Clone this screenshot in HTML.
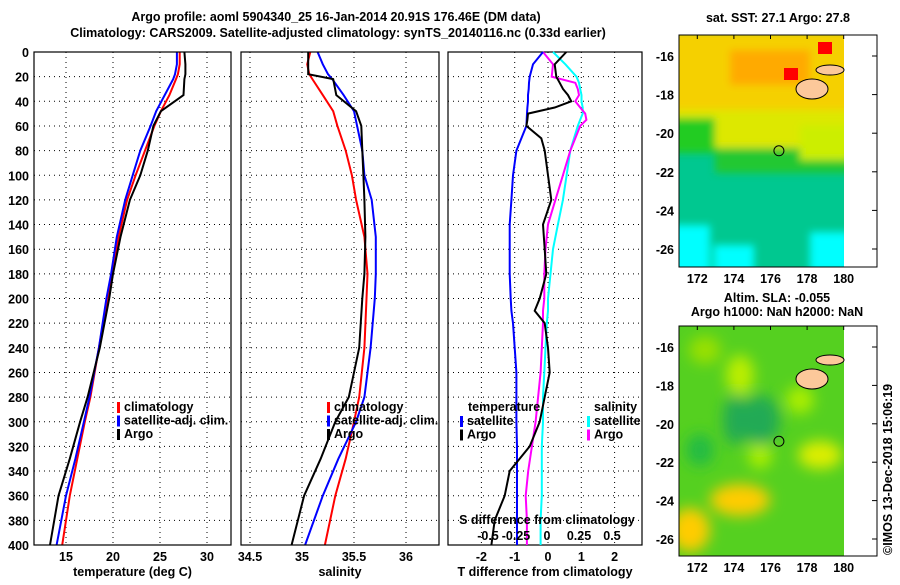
<!DOCTYPE html>
<html><head><meta charset="utf-8"><style>
body{margin:0;background:#fff}
svg text{font-family:"Liberation Sans",sans-serif;font-weight:bold;font-size:12.5px;fill:#000}
</style></head><body>
<svg id="c" width="900" height="580" xmlns="http://www.w3.org/2000/svg">
<text x="336" y="21" text-anchor="middle" font-size="14">Argo profile: aoml 5904340_25 16-Jan-2014 20.91S 176.46E (DM data)</text>
<text x="338" y="37" text-anchor="middle" font-size="14">Climatology: CARS2009. Satellite-adjusted climatology: synTS_20140116.nc (0.33d earlier)</text>
<g id="maps"></g>
<text x="892" y="555" transform="rotate(-90 892 555)">©IMOS 13-Dec-2018 15:06:19</text>
</svg>
<script>
// profile depth levels
const depths=[0,10,18,22,35,48,60,80,100,120,150,180,200,240,280,300,330,360,400];
const tClim=[27.1,27.1,26.9,26.7,26.0,25.1,24.4,23.4,22.4,21.5,20.6,19.9,19.4,18.5,17.6,17.0,16.2,15.4,14.6];
const tSat=[26.8,26.8,26.6,26.4,25.5,24.6,24.0,22.9,22.1,21.3,20.4,19.8,19.3,18.5,17.5,16.9,16.0,15.0,14.0];
const tArgo=[27.6,27.7,27.7,27.6,27.5,25.1,24.3,23.7,22.9,21.8,20.8,20.0,19.6,18.6,17.3,16.5,15.4,14.2,13.3];
const sClim=[35.08,35.05,35.07,35.1,35.2,35.3,35.34,35.42,35.48,35.52,35.6,35.63,35.62,35.6,35.55,35.5,35.42,35.32,35.22];
const sSat=[35.15,35.2,35.25,35.29,35.4,35.5,35.53,35.58,35.6,35.67,35.71,35.71,35.7,35.66,35.6,35.52,35.35,35.2,35.03];
const sArgo=[35.06,35.06,35.06,35.3,35.33,35.52,35.57,35.58,35.59,35.6,35.61,35.6,35.58,35.55,35.45,35.32,35.18,35.02,34.9];
// difference panel depth levels
const dDepths=[0,10,20,25,30,35,40,45,50,55,60,70,80,100,120,140,160,180,200,210,220,240,260,280,300,320,340,360,380,400];
const dT_sat=[-0.15,-0.45,-0.55,-0.57,-0.58,-0.6,-0.6,-0.62,-0.63,-0.64,-0.65,-0.8,-0.95,-1.05,-1.1,-1.15,-1.15,-1.15,-1.12,-1.1,-1.05,-1.0,-0.95,-0.95,-0.95,-0.93,-0.93,-0.93,-0.93,-0.93];
const dT_argo=[0.55,0.2,0.25,0.35,0.45,0.6,0.7,0.2,-0.6,-0.62,-0.65,-0.2,-0.1,0.0,0.1,-0.15,-0.1,-0.05,-0.25,-0.4,-0.1,0.0,0.05,-0.1,-0.25,-0.55,-1.15,-1.3,-1.6,-1.7];
const dS_sat=[0.04,0.14,0.23,0.25,0.26,0.27,0.27,0.28,0.28,0.26,0.24,0.21,0.18,0.15,0.12,0.08,0.04,0.02,0.0,0.0,-0.01,-0.02,-0.03,-0.04,-0.04,-0.05,-0.05,-0.05,-0.06,-0.06];
const dS_arg=[-0.04,0.04,0.03,0.22,0.24,0.25,0.22,0.26,0.3,0.31,0.26,0.22,0.18,0.12,0.06,0.0,-0.02,-0.03,-0.03,-0.04,-0.04,-0.05,-0.06,-0.08,-0.1,-0.13,-0.16,-0.18,-0.17,-0.17];
const depthTicks=[0,20,40,60,80,100,120,140,160,180,200,220,240,260,280,300,320,340,360,380,400];

const svg=document.getElementById('c');const NS='http://www.w3.org/2000/svg';
function el(tag,attrs,parent){const e=document.createElementNS(NS,tag);for(const k in attrs)e.setAttribute(k,attrs[k]);(parent||svg).appendChild(e);return e;}
function txt(x,y,s,anchor,parent){const t=el('text',{x:x,y:y,'text-anchor':anchor||'middle'},parent);t.textContent=s;return t;}
const Y=d=>52+d*(493/400);

function panel(name,x0,x1,xf,xticks,xlabels,title,series){
  const g=el('g',{});
  
  
  depthTicks.forEach(d=>{if(d>0&&d<400)el('line',{x1:x0,x2:x1,y1:Y(d),y2:Y(d),stroke:'#000','stroke-dasharray':'1,4'},g);});
  xticks.forEach((v,i)=>{const x=xf(v);el('line',{x1:x,x2:x,y1:52,y2:545,stroke:'#000','stroke-dasharray':'1,4'},g);
    const t=txt(x,561,xlabels[i],'middle',g);});
  series.forEach(s=>{const pts=s.v.map((v,i)=>xf(v).toFixed(1)+','+Y(depths[i]).toFixed(1)).join(' ');
    const p=el('polyline',{points:pts,fill:'none',stroke:s.c,'stroke-width':2},g);
    });
  el('rect',{x:x0,y:52,width:x1-x0,height:493,fill:'none',stroke:'#000','stroke-width':1.2},g);
  const tt=txt((x0+x1)/2,576,title,'middle',g);
  return g;
}
depthTicks.forEach(d=>{const t=txt(29,Y(d)+5,String(d),'end');});
const xT=v=>66+(v-15)*9.4, xS=v=>302+(v-35)*104, xD=v=>548+v*33.3, xSD=v=>548+v*124;
panel('temperature-panel',34,231,xT,[15,20,25,30],['15','20','25','30'],'temperature (deg C)',
 [{v:tClim,c:'#f00',n:'temp-climatology-line'},{v:tSat,c:'#00f',n:'temp-satellite-line'},{v:tArgo,c:'#000',n:'temp-argo-line'}]);
panel('salinity-panel',241,439,xS,[34.5,35,35.5,36],['34.5','35','35.5','36'],'salinity',
 [{v:sClim,c:'#f00',n:'sal-climatology-line'},{v:sSat,c:'#00f',n:'sal-satellite-line'},{v:sArgo,c:'#000',n:'sal-argo-line'}]);
const g3=panel('difference-panel',448,642,xD,[-2,-1,0,1,2],['-2','-1','0','1','2'],'T difference from climatology',[]);
function dline(arr,xf,col,name){
 const p=el('polyline',{points:arr.map((v,i)=>xf(v).toFixed(1)+','+Y(dDepths[i]).toFixed(1)).join(' '),fill:'none',stroke:col,'stroke-width':2},g3);
 }
dline(dS_sat,xSD,'#0ff','sdiff-satellite-line');
dline(dS_arg,xSD,'#f0f','sdiff-argo-line');
dline(dT_sat,xD,'#00f','tdiff-satellite-line');
dline(dT_argo,xD,'#000','tdiff-argo-line');
txt(547,524,'S difference from climatology','middle',g3);
[[-0.5,'-0.5',488],[-0.25,'-0.25',516],[0,'0',547],[0.25,'0.25',579],[0.5,'0.5',612]].forEach(v=>txt(v[2],540,v[1],'middle',g3));

function legend(x,y,items,name){const g=el('g',{});
 items.forEach((it,i)=>{el('rect',{x:x,y:y+i*13.5-9,width:3,height:11,fill:it[1]},g);txt(x+7,y+i*13.5,it[0],'start',g);});}
legend(117,411,[['climatology','#f00'],['satellite-adj. clim.','#00f'],['Argo','#000']],'temperature-legend');
legend(327,411,[['climatology','#f00'],['satellite-adj. clim.','#00f'],['Argo','#000']],'salinity-legend');
txt(468,411,'temperature','start');txt(594,411,'salinity','start');
legend(460,425,[['satellite','#00f'],['Argo','#000']],'tdiff-legend');
legend(587,425,[['satellite','#0ff'],['Argo','#f0f']],'sdiff-legend');

// maps
const maps=document.getElementById('maps');
const lonX=l=>679+(l-171)*18.3;
function mapFrame(top,bot,lat16,lat26,name){
 const g=el('g',{},maps);
 el('rect',{x:679,y:top,width:198,height:bot-top,fill:'#fff',stroke:'#000'},g);
 const latY=l=>lat16+(-16-l)*(lat26-lat16)/10;
 return {g,latY,finish:()=>{
  el('rect',{x:679,y:top,width:198,height:bot-top,fill:'none',stroke:'#000'},g);
  [-16,-18,-20,-22,-24,-26].forEach(l=>{txt(674,latY(l)+5,String(l),'end',g);el('line',{x1:872,x2:877,y1:latY(l),y2:latY(l),stroke:'#000'},g);});
  [172,174,176,178,180].forEach(l=>{txt(lonX(l),bot+16,String(l),'middle',g);el('line',{x1:lonX(l),x2:lonX(l),y1:top,y2:top+4,stroke:'#000'},g);});
 }};
}
txt(778,22,'sat. SST: 27.1 Argo: 27.8');
const m1=mapFrame(35,267,56,249,'sst-map');
const defs=el('defs',{});const f=el('filter',{id:'bl'},defs);el('feGaussianBlur',{stdDeviation:7},f);
const f2=el('filter',{id:'bl2'},defs);el('feGaussianBlur',{stdDeviation:4},f2);
const cp1=el('clipPath',{id:'cp1'},defs);el('rect',{x:679,y:35,width:165,height:232},cp1);
const g1=el('g',{'clip-path':'url(#cp1)'},m1.g);
el('rect',{x:679,y:35,width:165,height:232,fill:'#00c890'},g1);
const b1=el('g',{filter:'url(#bl2)'},g1);
el('rect',{x:670,y:30,width:185,height:90,fill:'#f5d000'},b1);
el('rect',{x:670,y:110,width:185,height:40,fill:'#dde800'},b1);
el('rect',{x:670,y:118,width:45,height:35,fill:'#22cc22'},b1);
el('rect',{x:715,y:148,width:140,height:25,fill:'#22c830'},b1);
el('rect',{x:800,y:125,width:50,height:35,fill:'#ccee00'},b1);
el('rect',{x:730,y:50,width:80,height:35,fill:'#ffaa00'},b1);
el('rect',{x:670,y:225,width:40,height:50,fill:'#00ffff'},b1);
el('rect',{x:714,y:245,width:40,height:30,fill:'#00ffff'},b1);
el('rect',{x:810,y:232,width:40,height:40,fill:'#00ffff'},b1);
el('rect',{x:784,y:68,width:14,height:12,fill:'#f00'},g1);
el('rect',{x:818,y:42,width:14,height:12,fill:'#f00'},g1);
el('ellipse',{cx:812,cy:89,rx:16,ry:10,fill:'#fcc89a',stroke:'#000'},m1.g);
el('ellipse',{cx:830,cy:70,rx:14,ry:5,fill:'#fcc89a',stroke:'#000'},m1.g);
el('circle',{cx:lonX(176.46),cy:m1.latY(-20.91),r:5,fill:'none',stroke:'#000'},m1.g);
m1.finish();
txt(777,302,'Altim. SLA: -0.055');txt(777,316,'Argo h1000: NaN h2000: NaN');
const m2=mapFrame(326,556,347,539,'sla-map');
el('rect',{x:679,y:326,width:165,height:230,fill:'#55d020'},m2.g);
const cp=el('clipPath',{id:'cp'},defs);el('rect',{x:679,y:326,width:165,height:230},cp);
const bg=el('g',{'clip-path':'url(#cp)'},m2.g);const bb=el('g',{filter:'url(#bl)'},bg);
[[740,500,30,16,'#ffcc00'],[690,530,20,22,'#ffcc00'],[820,455,22,14,'#ddee00'],[740,375,14,20,'#bbee00'],[800,400,14,14,'#aaee00'],[760,455,12,14,'#aaee00'],[705,350,16,14,'#99e000'],[700,450,14,16,'#22bb44'],[760,420,20,25,'#22aa55'],[735,420,12,25,'#22aa55']].forEach(e=>el('ellipse',{cx:e[0],cy:e[1],rx:e[2],ry:e[3],fill:e[4]},bb));
el('ellipse',{cx:812,cy:379,rx:16,ry:10,fill:'#fcc89a',stroke:'#000'},m2.g);
el('ellipse',{cx:830,cy:360,rx:14,ry:5,fill:'#fcc89a',stroke:'#000'},m2.g);
el('circle',{cx:lonX(176.46),cy:m2.latY(-20.91),r:5,fill:'none',stroke:'#000'},m2.g);
m2.finish();
</script>
</body></html>
